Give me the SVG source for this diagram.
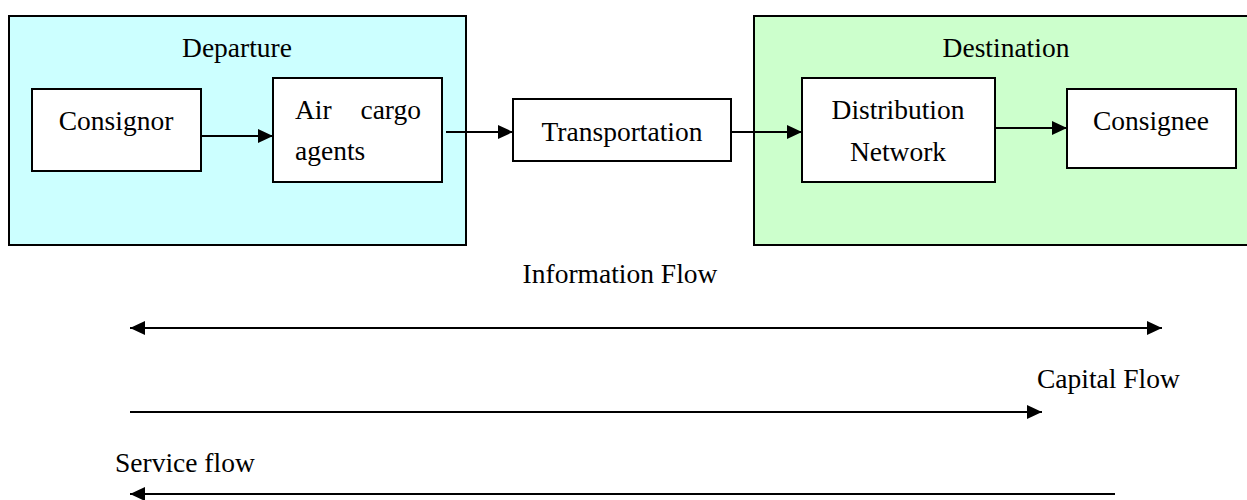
<svg xmlns="http://www.w3.org/2000/svg" width="1247" height="500" viewBox="0 0 1247 500">
<style>
text{font-family:"Liberation Serif","Times New Roman",serif;font-size:27.5px;fill:#000}
.box{fill:#fff;stroke:#000;stroke-width:2}
.area{stroke:#000;stroke-width:2}
.c{stroke:#000;stroke-width:2.2;fill:none}
</style>
<defs>
<marker id="ah" markerUnits="userSpaceOnUse" markerWidth="16" markerHeight="14" refX="15" refY="7" orient="auto-start-reverse">
<path d="M0,0 L15,7 L0,14 z" fill="#000"/>
</marker>
</defs>
<rect width="1247" height="500" fill="#fff"/>
<g id="departure">
<rect class="area" x="9" y="16" width="457" height="229" fill="#ccffff"/>
<text x="237" y="57" text-anchor="middle">Departure</text>
</g>
<g id="destination">
<rect class="area" x="754" y="16" width="500" height="229" fill="#ccffcc"/>
<text x="1006" y="57" text-anchor="middle">Destination</text>
</g>
<g id="consignor">
<rect class="box" x="32" y="89" width="169" height="82"/>
<text x="116" y="130" text-anchor="middle">Consignor</text>
</g>
<g id="air-cargo-agents">
<rect class="box" x="273" y="78" width="169" height="104"/>
<text x="295" y="119">Air</text>
<text x="421" y="119" text-anchor="end">cargo</text>
<text x="295" y="160">agents</text>
</g>
<g id="transportation">
<rect class="box" x="513" y="99" width="218" height="62"/>
<text x="622" y="141" text-anchor="middle">Transportation</text>
</g>
<g id="distribution-network">
<rect class="box" x="802" y="78" width="193" height="104"/>
<text x="898" y="119" text-anchor="middle">Distribution</text>
<text x="898" y="161" text-anchor="middle">Network</text>
</g>
<g id="consignee">
<rect class="box" x="1067" y="89" width="169" height="79"/>
<text x="1151" y="130" text-anchor="middle">Consignee</text>
</g>
<g id="connectors">
<line class="c" x1="201" y1="136" x2="273" y2="136" marker-end="url(#ah)"/>
<line class="c" x1="446" y1="132" x2="513" y2="132" marker-end="url(#ah)"/>
<line class="c" x1="731" y1="132" x2="802" y2="132" marker-end="url(#ah)"/>
<line class="c" x1="995" y1="128" x2="1067" y2="128" marker-end="url(#ah)"/>
<line class="c" x1="130" y1="328" x2="1162" y2="328" marker-start="url(#ah)" marker-end="url(#ah)"/>
<line class="c" x1="130" y1="412" x2="1042" y2="412" marker-end="url(#ah)"/>
<line class="c" x1="1115" y1="494" x2="130" y2="494" marker-end="url(#ah)"/>
</g>
<g id="flow-labels">
<text x="620" y="283" text-anchor="middle">Information Flow</text>
<text x="1037" y="388">Capital Flow</text>
<text x="115" y="472">Service flow</text>
</g>
</svg>
